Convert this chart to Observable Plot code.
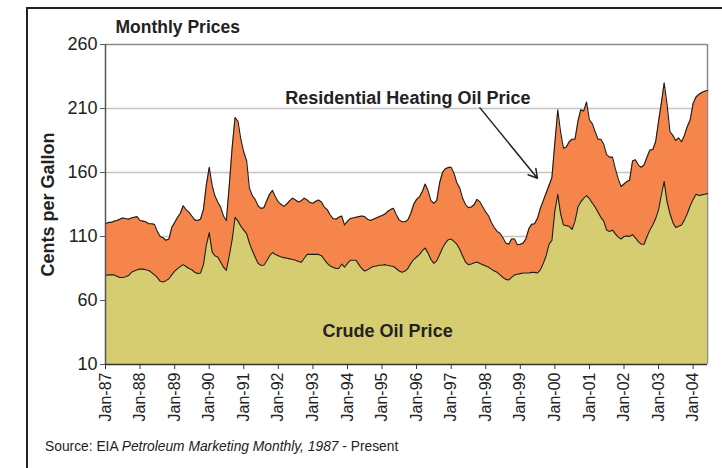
<!DOCTYPE html>
<html><head><meta charset="utf-8">
<script src="https://cdn.jsdelivr.net/npm/d3@7"></script>
<script src="https://cdn.jsdelivr.net/npm/@observablehq/plot@0.6"></script>
<style>
body{margin:0;background:#fff;}
#chart{position:relative;width:722px;height:468px;overflow:hidden;font-family:'Liberation Sans',Arial,sans-serif;}
#border{position:absolute;left:26px;top:7px;right:-10px;bottom:-10px;border-left:2.5px solid #222;border-top:2.5px solid #222;pointer-events:none;}
#caption{position:absolute;left:45px;top:439px;font-size:13.8px;color:#222;white-space:nowrap;}
#chart svg{position:absolute;left:0;top:0;}
</style>
</head><body>
<div id="chart"><div id="border"></div><div id="caption">Source: EIA <i>Petroleum Marketing Monthly, 1987</i> - Present</div></div>
<script>
// First month of the series
const startYear = 1987;
// Residential heating oil price, cents per gallon, monthly from Jan-87
const heatingOil = [
  120, 121, 121, 122, 122.5, 123.5, 124.5, 124, 123.5, 124.5, 125, 125.5,   // 1987
  122.5, 122, 121.5, 120, 120, 119.5, 114, 110, 109, 107, 108, 117,         // 1988
  121, 125, 128, 134, 131, 129, 126, 123, 122.5, 123.5, 131, 150,           // 1989
  164, 150, 142, 137, 133, 126, 122.5, 150, 180, 203, 200, 186,             // 1990
  176, 169, 148, 142, 139, 134, 132, 132.5, 138, 143, 146, 141,             // 1991
  137, 135, 133.5, 135.5, 138, 140, 138.5, 137, 138, 140, 138.5, 136.5,     // 1992
  136, 137.5, 138.5, 137, 133, 131, 127, 124, 123.5, 125, 126, 119,         // 1993
  122, 124, 124.5, 125, 125.5, 126, 125.5, 123.5, 122.5, 123.5, 124.5, 125.5, // 1994
  126.5, 127.5, 129.5, 131, 132, 127, 123, 121.5, 121.5, 123, 128, 135,     // 1995
  139, 141, 145, 151, 146, 138, 136, 138, 152, 160, 163, 164,               // 1996
  164, 159, 152, 148, 140, 135, 132.5, 133, 135, 139, 137, 133,             // 1997
  129, 126, 121, 117, 114, 112.5, 109, 105, 104, 108, 108, 103.5,           // 1998
  104, 105, 108, 116, 119.5, 120, 124, 132, 138, 144, 150, 156,             // 1999
  183, 209, 192, 179, 180, 184, 186, 186, 200, 209, 208, 215,               // 2000
  201, 198, 192, 186, 186, 182, 174, 172, 172, 163, 155, 149,               // 2001
  151, 153, 154, 169, 170, 166, 164, 166, 172, 177.5, 178, 184,             // 2002
  200, 215, 230, 213, 192, 189, 185, 187, 184, 189, 196, 201,               // 2003
  214, 219, 221, 222.5, 223.5, 224                                          // 2004
];
// Crude oil price, cents per gallon, monthly from Jan-87
const crudeOil = [
  79.5, 80, 80, 80, 79, 78, 78, 78.5, 79.5, 82, 83, 84,                     // 1987
  84.5, 84.5, 84, 83.5, 82, 80, 78, 75, 74.5, 75.5, 77, 80,                 // 1988
  83, 85, 86.5, 88, 86.5, 85, 84, 82, 81, 81.5, 88, 103,                    // 1989
  113, 98, 95, 94, 90, 86, 83.5, 95, 108, 125, 122, 118,                    // 1990
  115, 112, 105, 99, 94, 89, 87.5, 87.5, 91, 95, 97.5, 96,                  // 1991
  95, 94, 93.5, 93, 92.5, 92, 91.5, 90.5, 90, 93, 96, 96,                   // 1992
  96, 96, 96, 95, 92, 89, 87, 86, 85, 85, 88.5, 86,                         // 1993
  89, 91.5, 91.5, 91.5, 88, 85, 83, 84, 85.5, 86.5, 87, 87.5,               // 1994
  87.5, 88, 87.5, 87, 86.5, 85, 83, 82, 83, 85, 89, 92,                     // 1995
  94, 96, 99, 101, 97, 92, 89, 91, 96, 101, 105, 107.5,                     // 1996
  108, 106, 104, 100, 95, 90, 88, 88.5, 89.5, 90, 89, 88,                   // 1997
  87, 86, 84.5, 83, 82, 80, 78, 76.5, 76, 78, 80, 80.5,                     // 1998
  81, 81.5, 81.5, 81.5, 82, 82, 81.5, 84, 89, 95, 104, 107,                 // 1999
  130, 143, 128, 119, 118.5, 118, 115.5, 122, 133, 137, 140, 142,           // 2000
  139.5, 136, 133, 129, 125, 122, 115, 114, 115, 112, 109.5, 108,           // 2001
  110, 110.5, 110, 111.5, 109, 106, 104, 104, 110, 115, 119, 124,           // 2002
  131, 143, 153, 137, 128, 121, 117, 118, 119, 123, 128, 134,               // 2003
  139, 143, 142, 142.5, 143, 143.5                                          // 2004
];
const yTicks = [10, 60, 110, 160, 210, 260];
const gridValues = [60, 110, 160, 210];
const tickYears = [1987,1988,1989,1990,1991,1992,1993,1994,1995,1996,1997,1998,1999,2000,2001,2002,2003,2004];
const tickLabels = ["Jan-87","Jan-88","Jan-89","Jan-90","Jan-91","Jan-92","Jan-93","Jan-94","Jan-95","Jan-96","Jan-97","Jan-98","Jan-99","Jan-00","Jan-01","Jan-02","Jan-03","Jan-04"];
// annotation labels (date as [year, month index], value)
const labelNames = ["Residential Heating Oil Price", "Crude Oil Price"];
const labelYears = [1995, 1995];
const labelMonths = [9, 2];
const labelValues = [218, 36];
const arrowFrom = {year: 1997, month: 10, value: 210.5};
const arrowTo = {year: 1999, month: 6, value: 155.5};

const colors = {heating: "#F5854A", crude: "#D6CC72"};

const start = new Date(Date.UTC(startYear, 0, 1));
const data = heatingOil.map((h, i) => ({date: d3.utcMonth.offset(start, i), h, c: crudeOil[i]}));
const lastDate = data[data.length - 1].date;
const tickDates = tickYears.map(y => new Date(Date.UTC(y, 0, 1)));
const labelFor = new Map(tickDates.map((d, i) => [+d, tickLabels[i]]));
const labels = labelNames.map((t, i) => ({text: t, date: new Date(Date.UTC(labelYears[i], labelMonths[i], 1)), v: labelValues[i]}));
const arrows = [{
  x1: new Date(Date.UTC(arrowFrom.year, arrowFrom.month, 1)), y1: arrowFrom.value,
  x2: new Date(Date.UTC(arrowTo.year, arrowTo.month, 1)), y2: arrowTo.value
}];

const plot = Plot.plot({
  width: 722, height: 468,
  marginLeft: 105, marginRight: 15, marginTop: 44, marginBottom: 104,
  style: {fontFamily: "'Liberation Sans', Arial, sans-serif", background: "transparent", color: "#222", overflow: "visible"},
  x: {type: "utc", domain: [start, lastDate]},
  y: {domain: [10, 260]},
  marks: [
    Plot.ruleY(gridValues, {stroke: "#c4c4c4", strokeWidth: 1.5}),
    Plot.ruleY([260], {stroke: "#8a8a8a", strokeWidth: 1.5}),
    Plot.ruleX([lastDate], {stroke: "#8a8a8a", strokeWidth: 1.5}),
    Plot.areaY(data, {x: "date", y1: 10, y2: "h", fill: colors.heating}),
    Plot.areaY(data, {x: "date", y1: 10, y2: "c", fill: colors.crude}),
    Plot.lineY(data, {x: "date", y: "h", stroke: "#1b1b1b", strokeWidth: 1.1}),
    Plot.lineY(data, {x: "date", y: "c", stroke: "#1b1b1b", strokeWidth: 1.1}),
    Plot.ruleX([start], {stroke: "#555", strokeWidth: 1.5}),
    Plot.ruleY([10], {stroke: "#333", strokeWidth: 1.5}),
    Plot.axisY({ticks: yTicks, tickSize: 5, tickPadding: 3, fontSize: 18, label: null, stroke: "#555"}),
    Plot.axisX({ticks: tickDates, tickFormat: d => labelFor.get(+d), tickRotate: -90, tickSize: 5, tickPadding: 3, fontSize: 16, label: null, stroke: "#333"}),
    Plot.text(labels, {x: "date", y: "v", text: "text", fontWeight: "bold", fontSize: 18, fill: "#222"}),
    Plot.arrow(arrows, {x1: "x1", y1: "y1", x2: "x2", y2: "y2", stroke: "#222", strokeWidth: 1.5, headLength: 10}),
    Plot.text(["Monthly Prices"], {frameAnchor: "top-left", dx: 10, dy: -17, textAnchor: "start", lineAnchor: "middle", fontWeight: "bold", fontSize: 17.5, fill: "#222"}),
    Plot.text(["Cents per Gallon"], {frameAnchor: "left", dx: -57, rotate: -90, textAnchor: "middle", lineAnchor: "middle", fontWeight: "bold", fontSize: 18, fill: "#222"})
  ]
});
document.getElementById("chart").appendChild(plot);
</script>
</body></html>
